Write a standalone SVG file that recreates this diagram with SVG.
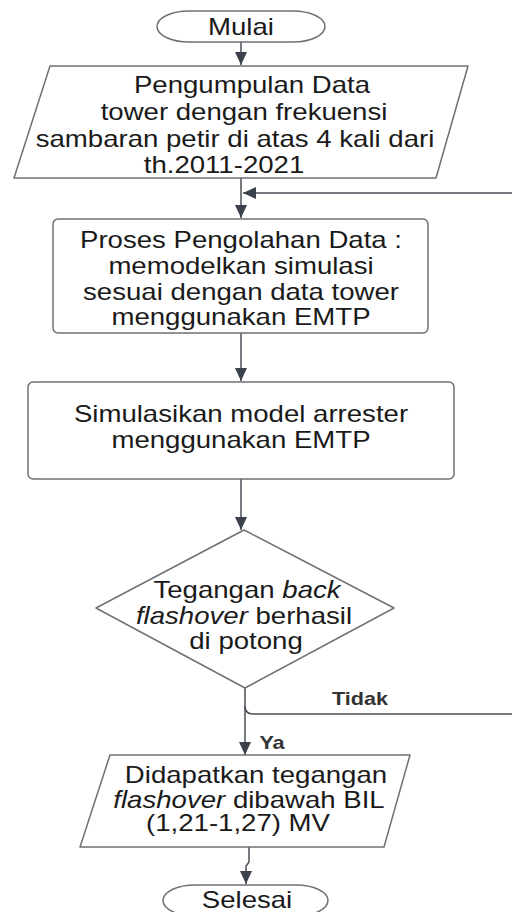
<svg xmlns="http://www.w3.org/2000/svg" width="512" height="912" viewBox="0 0 512 912">
  <defs>
    <style>
      .shape { fill: #ffffff; stroke: #6e7075; stroke-width: 1.5; stroke-linejoin: round; }
      .conn { fill: none; stroke: #4a4f57; stroke-width: 1.5; }
      .t { font-family: "Liberation Sans", Arial, sans-serif; font-size: 23px; fill: #1a1a1a; text-anchor: middle; }
      .lbl { font-family: "Liberation Sans", Arial, sans-serif; font-size: 18px; font-weight: bold; fill: #333333; text-anchor: middle; }
    </style>
    <marker id="arrow" markerUnits="userSpaceOnUse" markerWidth="14" markerHeight="12" refX="13" refY="6" orient="auto">
      <path d="M0,0 L13,6 L0,12 Z" fill="#3b424b"/>
    </marker>
  </defs>
  <rect width="512" height="912" fill="#ffffff"/>

  <g id="connectors">
    <path class="conn" d="M241,42 V65" marker-end="url(#arrow)"/>
    <path class="conn" d="M241,178 V218" marker-end="url(#arrow)"/>
    <path class="conn" d="M241,333 V381" marker-end="url(#arrow)"/>
    <path class="conn" d="M241,479 V530" marker-end="url(#arrow)"/>
    <path class="conn" d="M245,688 V755" marker-end="url(#arrow)"/>
    <path class="conn" d="M245,706 Q245,714 253,714 H530 V193 H243" marker-end="url(#arrow)"/>
    <path class="conn" d="M249,847 V862 L246,866 V884" marker-end="url(#arrow)"/>
    <text class="lbl" transform="matrix(1.2 0 0 1 360 705)" x="0" y="0">Tidak</text>
    <text class="lbl" transform="matrix(1.2 0 0 1 272 749)" x="0" y="0">Ya</text>
  </g>

  <g id="mulai">
    <rect class="shape" x="157" y="11" width="168" height="31" rx="32" ry="15.5"/>
    <text class="t" transform="matrix(1.2 0 0 1 241 35)" x="0" y="0">Mulai</text>
  </g>

  <g id="pengumpulan">
    <path class="shape" d="M50,66 H468 L436,178 H14 Z"/>
    <text class="t" transform="matrix(1.2 0 0 1 252 93)" x="0" y="0">Pengumpulan Data</text>
    <text class="t" transform="matrix(1.2 0 0 1 244 120)" x="0" y="0">tower dengan frekuensi</text>
    <text class="t" transform="matrix(1.2 0 0 1 235 147)" x="0" y="0">sambaran petir di atas 4 kali dari</text>
    <text class="t" transform="matrix(1.2 0 0 1 224 173)" x="0" y="0">th.2011-2021</text>
  </g>

  <g id="proses">
    <rect class="shape" x="53" y="219" width="375" height="114" rx="5"/>
    <text class="t" transform="matrix(1.2 0 0 1 241 248)" x="0" y="0">Proses Pengolahan Data :</text>
    <text class="t" transform="matrix(1.2 0 0 1 241 274)" x="0" y="0">memodelkan simulasi</text>
    <text class="t" transform="matrix(1.2 0 0 1 241 300)" x="0" y="0">sesuai dengan data tower</text>
    <text class="t" transform="matrix(1.2 0 0 1 241 325)" x="0" y="0">menggunakan EMTP</text>
  </g>

  <g id="simulasi">
    <rect class="shape" x="28" y="382" width="426" height="97" rx="5"/>
    <text class="t" transform="matrix(1.2 0 0 1 241 422)" x="0" y="0">Simulasikan model arrester</text>
    <text class="t" transform="matrix(1.2 0 0 1 241 448)" x="0" y="0">menggunakan EMTP</text>
  </g>

  <g id="keputusan">
    <path class="shape" d="M244,530 L394,608 L245,688 L96,608 Z"/>
    <text class="t" transform="matrix(1.2 0 0 1 247 598)" x="0" y="0">Tegangan <tspan font-style="italic">back</tspan></text>
    <text class="t" transform="matrix(1.2 0 0 1 244 624)" x="0" y="0"><tspan font-style="italic">flashover</tspan> berhasil</text>
    <text class="t" transform="matrix(1.2 0 0 1 246 649)" x="0" y="0">di potong</text>
  </g>

  <g id="hasil">
    <path class="shape" d="M110,755 H410 L384,847 H80 Z"/>
    <text class="t" transform="matrix(1.2 0 0 1 256 783)" x="0" y="0">Didapatkan tegangan</text>
    <text class="t" transform="matrix(1.2 0 0 1 249 808)" x="0" y="0"><tspan font-style="italic">flashover</tspan> dibawah BIL</text>
    <text class="t" transform="matrix(1.2 0 0 1 238 831)" x="0" y="0">(1,21-1,27) MV</text>
  </g>

  <g id="selesai">
    <rect class="shape" x="163" y="885" width="165" height="31" rx="32" ry="15.5"/>
    <text class="t" transform="matrix(1.2 0 0 1 247 908)" x="0" y="0">Selesai</text>
  </g>
</svg>
